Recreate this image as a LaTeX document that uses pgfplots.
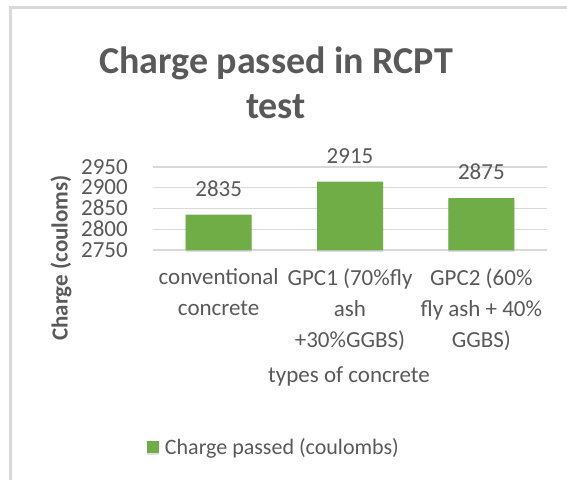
\documentclass[border=0pt]{standalone}
\usepackage{fontspec}
\setmainfont{Carlito}
\usepackage{pgfplots}
\pgfplotsset{compat=1.18}
\usetikzlibrary{shadows}
\definecolor{txt}{HTML}{595959}
\definecolor{gridc}{HTML}{D9D9D9}
\definecolor{barc}{HTML}{70AD47}
\begin{document}
\begin{tikzpicture}[x=1pt,y=1pt]
\path[use as bounding box] (0,0) rectangle (567,480);
\draw[gridc, line width=3pt] (10,0) -- (10,472) -- (567,472);
% title
\node[txt, font=\fontsize{38}{44}\selectfont\bfseries] at (276,417) {Charge passed in RCPT};
\node[txt, font=\fontsize{38}{44}\selectfont\bfseries] at (276,373) {test};
% axis titles
\node[txt, rotate=90, font=\fontsize{23}{28}\selectfont\bfseries] at (61,222) {Charge (couloms)};
\node[txt, font=\fontsize{23}{28}\selectfont] at (349,104) {types of concrete};
\begin{axis}[
    at={(153pt,230pt)}, anchor=south west,
    scale only axis,
    width=394pt, height=83pt,
    ybar, bar width=66pt,
    xmin=-0.5, xmax=2.5,
    ymin=2750, ymax=2950,
    ytick={2750,2800,2850,2900,2950},
    xtick={0,1,2},
    xticklabels={{conventional\\concrete},{GPC1 (70\%fly\\ash\\+30\%GGBS)},{GPC2 (60\%\\fly ash + 40\%\\GGBS)}},
    major tick length=0pt,
    axis line style={draw=none},
    ymajorgrids, grid style={gridc, line width=1.3pt},
    /pgf/number format/assume math mode=true,
    /pgf/number format/1000 sep={},
    yticklabel style={txt, font=\fontsize{23}{23}\selectfont, inner sep=0pt,
        text height=14pt, text depth=0pt, xshift=-25pt},
    xticklabel style={txt, font=\fontsize{23}{31}\selectfont, align=center, inner sep=0pt, yshift=-18pt},
    nodes near coords,
    every node near coord/.append style={txt, font=\fontsize{23}{23}\selectfont, inner sep=0pt, yshift=18pt},
    clip=false,
    legend style={at={(0.307,-2.373)}, anchor=center, draw=none, fill=none,
        font=\fontsize{22}{26}\selectfont, text=txt},
    legend image code/.code={\fill[barc] (0pt,-6pt) rectangle (12pt,6pt); \path (0pt,0pt) -- (16pt,0pt);},
]
\addplot[fill=barc, draw=none,
    drop shadow={shadow xshift=0pt, shadow yshift=-2pt, opacity=0.25}]
    coordinates {(0,2835) (1,2915) (2,2875)};
\legend{Charge passed (coulombs)}
\end{axis}
\end{tikzpicture}
\end{document}
